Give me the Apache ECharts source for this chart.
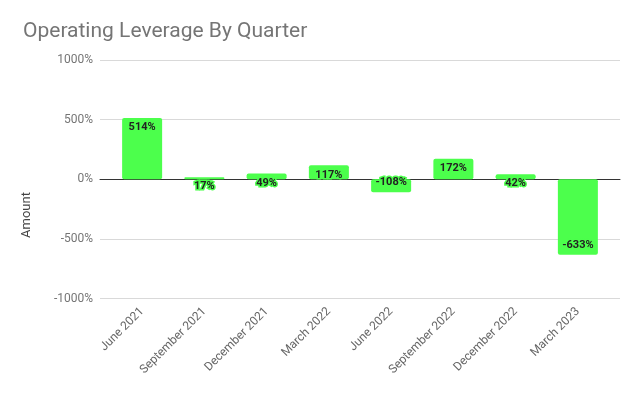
<!DOCTYPE html>
<html><head><meta charset="utf-8">
<script src="https://cdn.jsdelivr.net/npm/echarts@6/dist/echarts.min.js"></script>
<style>html,body{margin:0;padding:0;background:#fff}#c{width:640px;height:396px}</style>
</head><body><div id="c"></div>
<script>
const categories = ['June 2021','September 2021','December 2021','March 2022','June 2022','September 2022','December 2022','March 2023'];
const values = [514, 17, 49, 117, -108, 172, 42, -633];
const yTicks = [-1000, -500, 0, 500, 1000];

const chart = echarts.init(document.getElementById('c'), null, {renderer:'canvas'});
const font = 'Roboto, "Noto Sans", sans-serif';
const barColor = '#4cff4c';
chart.setOption({
  animation:false,
  textStyle:{fontFamily:font},
  title:{text:'Operating Leverage By Quarter', left:18, top:16,
    textStyle:{fontFamily:font, fontSize:21, fontWeight:'normal', color:'#757575'}},
  graphic:[{type:'text', x:27, y:215, rotation:Math.PI/2,
    style:{text:'Amount', fontSize:13, fill:'#444', fontFamily:font, align:'center', verticalAlign:'middle'}}],
  grid:[
    {left:100, right:20, top:60, bottom:97.5},
    {left:111, right:31, top:60, bottom:97.5}
  ],
  xAxis:[
    {gridIndex:0, type:'value', min:0, max:1, show:true, axisLabel:{show:false}, axisTick:{show:false}, splitLine:{show:false},
     axisLine:{show:true, onZero:true, lineStyle:{color:'#333', width:1}}},
    {gridIndex:1, type:'category', data:categories, axisLine:{show:false}, axisTick:{show:false},
     axisLabel:{rotate:45, fontSize:12, color:'#666', margin:11, fontFamily:font, interval:0}}
  ],
  yAxis:[
    {gridIndex:0, type:'value', min:-1000, max:1000, interval:500,
     axisLine:{show:false}, axisTick:{show:false},
     axisLabel:{formatter:v=>v+'%', fontSize:12, color:'#757575', margin:7, fontFamily:font,
       customValues:yTicks},
     splitLine:{lineStyle:{color:'#d9d9d9', width:1}}},
    {gridIndex:1, type:'value', min:-1000, max:1000, interval:500, show:false, splitLine:{show:false}}
  ],
  series:[
    {type:'bar', xAxisIndex:1, yAxisIndex:1, barWidth:40,
     itemStyle:{color:barColor, borderRadius:2},
     data: values.map(v=>({value:v, label:{position: v>=0 ? 'insideTop':'insideBottom'}})),
     label:{show:true, distance:4, formatter:p=>p.value+'%', fontSize:11, fontWeight:'bold',
       color:'#222', fontFamily:font, textBorderColor:barColor, textBorderWidth:3}}
  ]
});
</script></body></html>
